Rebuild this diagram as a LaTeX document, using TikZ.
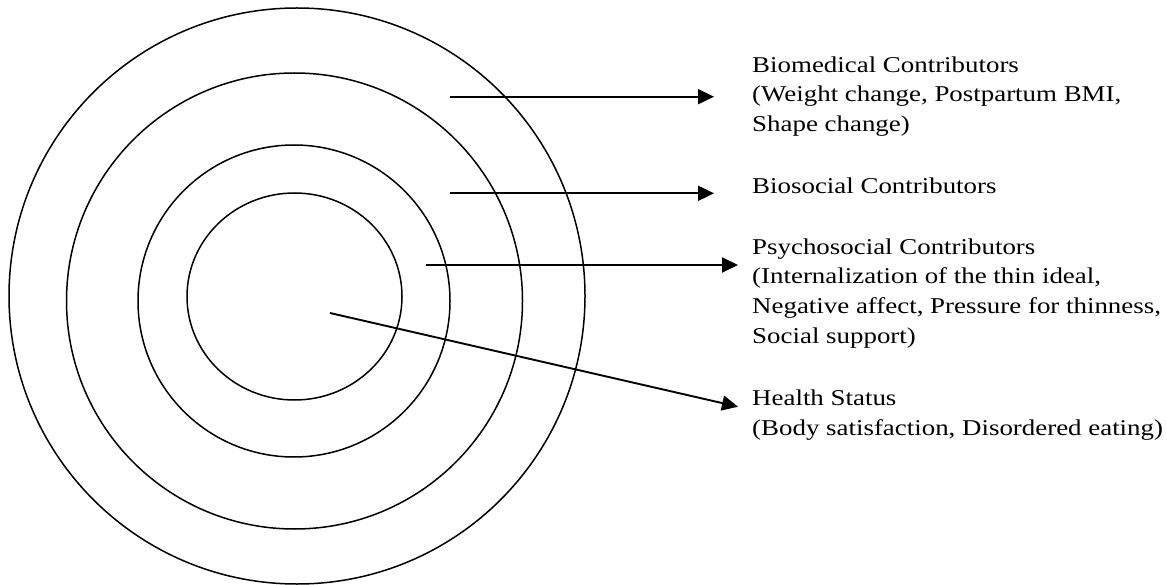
\documentclass[tikz,border=0pt]{standalone}
\usepackage{fontspec}
\setmainfont{Liberation Serif}
\usetikzlibrary{arrows.meta}

\tikzset{
  ring/.style={draw=black, line width=1.5pt},
  lead/.style={draw=black, line width=1.9pt, -{Triangle[length=16pt,width=15pt]}},
  contrib/.style={anchor=base west, inner sep=0pt, align=left, xscale=1.19,
    font=\fontsize{22.6}{29.7}\selectfont},
}

\begin{document}
\begin{tikzpicture}[x=1pt, y=-1pt]
\useasboundingbox (0,0) rectangle (1167,585);

% rings, outer to inner
\draw[ring] (297,296) circle[radius=288];
\draw[ring] (294.5,301) circle[radius=228];
\draw[ring] (294,301) circle[radius=156];
\draw[ring] (294.5,296.5) ellipse[x radius=107.5, y radius=103.5];

% contributor texts (placed by the baseline of their last line)
\node[contrib] (biomed) at (752,131.7) {Biomedical Contributors\\(Weight change, Postpartum BMI,\\Shape change)};
\node[contrib] (biosoc) at (752,193.3) {Biosocial Contributors};
\node[contrib] (psysoc) at (752,343.3) {Psychosocial Contributors\\(Internalization of the thin ideal,\\Negative affect, Pressure for thinness,\\Social support)};
\node[contrib] (health) at (752,435) {Health Status\\(Body satisfaction, Disordered eating)};

% arrow ends
\coordinate (biomed-in)  at (450,96.7);
\coordinate (biomed-out) at (714,96.7);
\coordinate (biosoc-in)  at (450,193.3);
\coordinate (biosoc-out) at (714,193.3);
\coordinate (psysoc-in)  at (426,265);
\coordinate (psysoc-out) at (738,265);
\coordinate (health-in)  at (330,313);
\coordinate (health-out) at (738,406.7);

\draw[lead] (biomed-in) -- (biomed-out);
\draw[lead] (biosoc-in) -- (biosoc-out);
\draw[lead] (psysoc-in) -- (psysoc-out);
\draw[lead] (health-in) -- (health-out);
\end{tikzpicture}
\end{document}
